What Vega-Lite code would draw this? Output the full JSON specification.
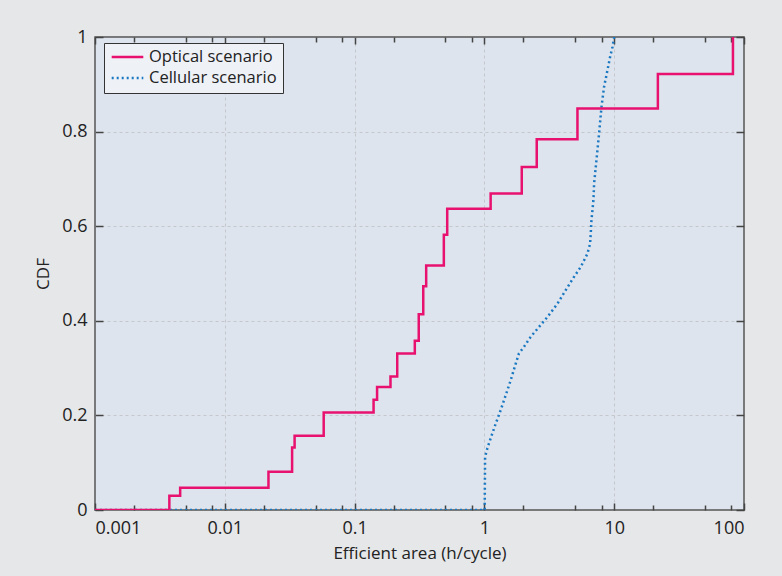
{
  "$schema": "https://vega.github.io/schema/vega-lite/v6.json",
  "width": 649,
  "height": 473,
  "autosize": {"type": "none"},
  "padding": {"left": 95, "top": 37, "right": 38, "bottom": 66},
  "background": "#e6e7e9",
  "config": {
    "font": "Open Sans",
    "view": {"stroke": "#555555", "strokeWidth": 1.5, "fill": "#dde4ed"},
    "axis": {
      "domain": false,
      "tickColor": "#444444",
      "tickWidth": 1.5,
      "labelFont": "Open Sans",
      "labelFontSize": 18,
      "labelColor": "#222222",
      "titleFont": "Open Sans",
      "titleFontSize": 17,
      "titleFontWeight": "normal",
      "titleColor": "#222222",
      "gridColor": "#c4c8cc",
      "gridDash": [3, 3],
      "gridWidth": 1
    },
    "legend": {
      "orient": "none",
      "legendX": 9,
      "legendY": 6,
      "fillColor": "#eef1f6",
      "strokeColor": "#333333",
      "padding": 6,
      "labelFont": "Open Sans",
      "labelFontSize": 16.5,
      "labelColor": "#222222",
      "labelOffset": 4,
      "symbolType": "stroke",
      "symbolSize": 1000,
      "symbolStrokeWidth": 2.5,
      "rowPadding": 4,
      "clipHeight": 16
    }
  },
  "datasets": {
    "optical": [
      {"x": 0.001, "cdf": 0, "series": "Optical scenario"},
      {"x": 0.00374, "cdf": 0.030, "series": "Optical scenario"},
      {"x": 0.00453, "cdf": 0.047, "series": "Optical scenario"},
      {"x": 0.0217, "cdf": 0.081, "series": "Optical scenario"},
      {"x": 0.0330, "cdf": 0.132, "series": "Optical scenario"},
      {"x": 0.0345, "cdf": 0.157, "series": "Optical scenario"},
      {"x": 0.0578, "cdf": 0.206, "series": "Optical scenario"},
      {"x": 0.140, "cdf": 0.233, "series": "Optical scenario"},
      {"x": 0.149, "cdf": 0.260, "series": "Optical scenario"},
      {"x": 0.189, "cdf": 0.282, "series": "Optical scenario"},
      {"x": 0.213, "cdf": 0.331, "series": "Optical scenario"},
      {"x": 0.291, "cdf": 0.358, "series": "Optical scenario"},
      {"x": 0.312, "cdf": 0.414, "series": "Optical scenario"},
      {"x": 0.338, "cdf": 0.473, "series": "Optical scenario"},
      {"x": 0.356, "cdf": 0.517, "series": "Optical scenario"},
      {"x": 0.487, "cdf": 0.582, "series": "Optical scenario"},
      {"x": 0.517, "cdf": 0.637, "series": "Optical scenario"},
      {"x": 1.117, "cdf": 0.669, "series": "Optical scenario"},
      {"x": 1.94, "cdf": 0.725, "series": "Optical scenario"},
      {"x": 2.53, "cdf": 0.784, "series": "Optical scenario"},
      {"x": 5.21, "cdf": 0.849, "series": "Optical scenario"},
      {"x": 21.7, "cdf": 0.922, "series": "Optical scenario"},
      {"x": 82.2, "cdf": 1.0, "series": "Optical scenario"}
    ],
    "cellular": [
      {"x": 0.001, "cdf": 0, "series": "Cellular scenario"},
      {"x": 1.005, "cdf": 0, "series": "Cellular scenario"},
      {"x": 1.012, "cdf": 0.112, "series": "Cellular scenario"},
      {"x": 1.053, "cdf": 0.130, "series": "Cellular scenario"},
      {"x": 1.116, "cdf": 0.151, "series": "Cellular scenario"},
      {"x": 1.22, "cdf": 0.182, "series": "Cellular scenario"},
      {"x": 1.334, "cdf": 0.211, "series": "Cellular scenario"},
      {"x": 1.457, "cdf": 0.242, "series": "Cellular scenario"},
      {"x": 1.593, "cdf": 0.274, "series": "Cellular scenario"},
      {"x": 1.741, "cdf": 0.309, "series": "Cellular scenario"},
      {"x": 1.846, "cdf": 0.331, "series": "Cellular scenario"},
      {"x": 2.018, "cdf": 0.345, "series": "Cellular scenario"},
      {"x": 2.273, "cdf": 0.366, "series": "Cellular scenario"},
      {"x": 2.634, "cdf": 0.387, "series": "Cellular scenario"},
      {"x": 3.058, "cdf": 0.408, "series": "Cellular scenario"},
      {"x": 3.652, "cdf": 0.436, "series": "Cellular scenario"},
      {"x": 4.232, "cdf": 0.465, "series": "Cellular scenario"},
      {"x": 4.905, "cdf": 0.493, "series": "Cellular scenario"},
      {"x": 5.53, "cdf": 0.514, "series": "Cellular scenario"},
      {"x": 6.22, "cdf": 0.542, "series": "Cellular scenario"},
      {"x": 6.52, "cdf": 0.563, "series": "Cellular scenario"},
      {"x": 6.6, "cdf": 0.585, "series": "Cellular scenario"},
      {"x": 6.68, "cdf": 0.613, "series": "Cellular scenario"},
      {"x": 6.92, "cdf": 0.655, "series": "Cellular scenario"},
      {"x": 7.0, "cdf": 0.690, "series": "Cellular scenario"},
      {"x": 7.30, "cdf": 0.740, "series": "Cellular scenario"},
      {"x": 7.65, "cdf": 0.796, "series": "Cellular scenario"},
      {"x": 7.98, "cdf": 0.852, "series": "Cellular scenario"},
      {"x": 8.36, "cdf": 0.895, "series": "Cellular scenario"},
      {"x": 8.77, "cdf": 0.923, "series": "Cellular scenario"},
      {"x": 9.30, "cdf": 0.958, "series": "Cellular scenario"},
      {"x": 9.70, "cdf": 0.979, "series": "Cellular scenario"},
      {"x": 10.0, "cdf": 1.0, "series": "Cellular scenario"}
    ]
  },
  "resolve": {"axis": {"x": "independent", "y": "independent"}},
  "layer": [
    {
      "data": {"name": "cellular"},
      "mark": {"type": "line", "interpolate": "linear", "strokeWidth": 2.5, "clip": true},
      "encoding": {
        "x": {
          "field": "x", "type": "quantitative",
          "scale": {"type": "log", "domain": [0.001, 100], "nice": false},
          "axis": {
            "orient": "top",
            "title": null,
            "labels": false,
            "grid": false,
            "values": [0.001, 0.002, 0.005, 0.008, 0.01, 0.02, 0.05, 0.08, 0.1, 0.2, 0.5, 0.8, 1, 2, 5, 8, 10, 20, 50, 80, 100],
            "tickSize": {"condition": {"test": "abs(log(datum.value)/LN10 - round(log(datum.value)/LN10)) < 0.01", "value": -7}, "value": -5}
          }
        },
        "y": {
          "field": "cdf", "type": "quantitative",
          "scale": {"domain": [0, 1], "nice": false},
          "axis": {"orient": "right", "title": null, "labels": false, "grid": false, "values": [0, 0.2, 0.4, 0.6, 0.8, 1], "tickSize": -8}
        },
        "color": {
          "field": "series", "type": "nominal",
          "scale": {"domain": ["Optical scenario", "Cellular scenario"], "range": ["#e8116f", "#1a78c2"]},
          "legend": {"title": null}
        },
        "strokeDash": {
          "field": "series", "type": "nominal",
          "scale": {"domain": ["Optical scenario", "Cellular scenario"], "range": [[1, 0], [2, 3]]},
          "legend": {"title": null}
        }
      }
    },
    {
      "data": {"name": "optical"},
      "mark": {"type": "line", "interpolate": "step-after", "strokeWidth": 2.5, "clip": true},
      "encoding": {
        "x": {
          "field": "x", "type": "quantitative",
          "scale": {"type": "log", "domain": [0.001, 100], "nice": false},
          "axis": {
            "orient": "bottom",
            "title": "Efficient area (h/cycle)",
            "titlePadding": 8,
            "labelPadding": 16,
            "grid": true,
            "gridOpacity": {"condition": {"test": "abs(log(datum.value)/LN10 - round(log(datum.value)/LN10)) < 0.01 && datum.value > 0.0011 && datum.value < 99", "value": 1}, "value": 0},
            "values": [0.001, 0.002, 0.005, 0.008, 0.01, 0.02, 0.05, 0.08, 0.1, 0.2, 0.5, 0.8, 1, 2, 5, 8, 10, 20, 50, 80, 100],
            "labelExpr": "abs(log(datum.value)/LN10 - round(log(datum.value)/LN10)) < 0.01 ? format(datum.value, '~g') : ''",
            "tickSize": {"condition": {"test": "abs(log(datum.value)/LN10 - round(log(datum.value)/LN10)) < 0.01", "value": -7}, "value": -5}
          }
        },
        "y": {
          "field": "cdf", "type": "quantitative",
          "scale": {"domain": [0, 1], "nice": false},
          "axis": {
            "orient": "left",
            "title": "CDF",
            "titlePadding": 9,
            "labelPadding": 16,
            "grid": true,
            "gridOpacity": {"condition": {"test": "datum.value > 0.01 && datum.value < 0.99", "value": 1}, "value": 0},
            "values": [0, 0.2, 0.4, 0.6, 0.8, 1],
            "labelExpr": "format(datum.value, '~g')",
            "tickSize": -8
          }
        },
        "color": {
          "field": "series", "type": "nominal",
          "scale": {"domain": ["Optical scenario", "Cellular scenario"], "range": ["#e8116f", "#1a78c2"]},
          "legend": {"title": null}
        },
        "strokeDash": {
          "field": "series", "type": "nominal",
          "scale": {"domain": ["Optical scenario", "Cellular scenario"], "range": [[1, 0], [2, 3]]},
          "legend": {"title": null}
        }
      }
    }
  ]
}
